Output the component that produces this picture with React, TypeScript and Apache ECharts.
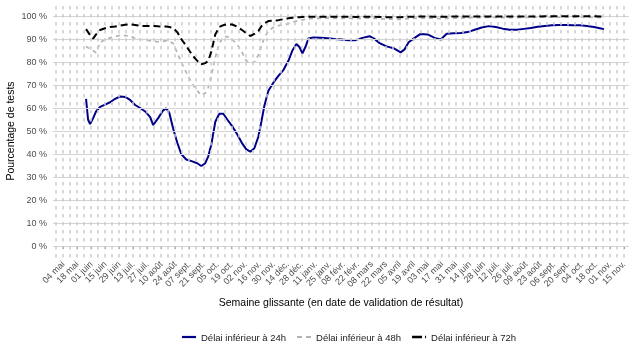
import React, { useEffect, useRef } from 'react';
import * as echarts from 'echarts';

// Semaine glissante (date de validation de résultat)
const dates = [
  '2020-05-27', '2020-05-29', '2020-05-31', '2020-06-03', '2020-06-06', '2020-06-10', '2020-06-15', '2020-06-20', '2020-06-25', '2020-06-30',
  '2020-07-05', '2020-07-10', '2020-07-15', '2020-07-20', '2020-07-25', '2020-07-30', '2020-08-02', '2020-08-07', '2020-08-12', '2020-08-15',
  '2020-08-18', '2020-08-22', '2020-08-26', '2020-08-30', '2020-09-04', '2020-09-10', '2020-09-15', '2020-09-19', '2020-09-23', '2020-09-26',
  '2020-09-29', '2020-10-03', '2020-10-07', '2020-10-11', '2020-10-15', '2020-10-20', '2020-10-25', '2020-10-30', '2020-11-03', '2020-11-07',
  '2020-11-11', '2020-11-15', '2020-11-18', '2020-11-21', '2020-11-25', '2020-11-30', '2020-12-05', '2020-12-10', '2020-12-15', '2020-12-19',
  '2020-12-23', '2020-12-26', '2020-12-29', '2021-01-01', '2021-01-04', '2021-01-09', '2021-01-16', '2021-01-23', '2021-01-30', '2021-02-06',
  '2021-02-13', '2021-02-20', '2021-02-27', '2021-03-06', '2021-03-11', '2021-03-16', '2021-03-23', '2021-03-30', '2021-04-06', '2021-04-10',
  '2021-04-14', '2021-04-20', '2021-04-26', '2021-05-03', '2021-05-10', '2021-05-16', '2021-05-22', '2021-05-29', '2021-06-05', '2021-06-12',
  '2021-06-19', '2021-06-26', '2021-07-03', '2021-07-10', '2021-07-17', '2021-07-24', '2021-07-31', '2021-08-07', '2021-08-14', '2021-08-21',
  '2021-08-28', '2021-09-04', '2021-09-11', '2021-09-18', '2021-09-25', '2021-10-02', '2021-10-09', '2021-10-16', '2021-10-23', '2021-10-26',
];

const delai24h = [
  64, 55, 53, 55.5, 58.5, 60.5, 61.5, 62.5, 64, 65,
  64.8, 63.5, 61.3, 60, 58.5, 56, 52.6, 55.6, 59, 59.8,
  58, 51, 45, 40, 37.6, 36.8, 36, 34.8, 36, 39,
  44, 54, 57.5, 57.5, 55, 52, 48.5, 44.5, 42, 41,
  42.5, 47.5, 54, 61, 67.5, 71, 74, 76.5, 80.5, 85,
  87.8, 86.5, 83.8, 86.5, 90.2, 90.7, 90.5, 90.3, 90, 89.8,
  89.5, 89.5, 90.5, 91.2, 90, 88.2, 86.8, 86, 84.2, 85.5,
  88.6, 90.5, 92.2, 92, 90.5, 89.8, 92.3, 92.5, 92.6, 93,
  94, 95, 95.6, 95.2, 94.5, 94, 94, 94.4, 94.8, 95.3,
  95.7, 96, 96.1, 96.1, 96, 96, 95.7, 95.2, 94.6, 94.3,
];

const delai48h = [
  86.7, 86.2, 85.8, 85, 84, 88.5, 89.8, 90.5, 91, 91.6,
  91.5, 91.3, 90.3, 89.9, 89.6, 89.3, 89, 88.8, 89, 89.3,
  89, 88, 84, 80, 75.5, 70.5, 67.5, 65.5, 66.5, 69,
  74, 82, 88, 91, 91, 89.8, 87.5, 84, 80.5, 79.4,
  80, 83, 87, 90.5, 93.5, 95, 95.8, 96.2, 96.6, 97.3,
  97.8, 98, 98.3, 98.5, 98.7, 99, 99, 99.1, 99, 99,
  99, 98.9, 99, 99.1, 99, 98.8, 98.6, 98.6, 98.5, 98.7,
  98.9, 99, 99.1, 99.1, 99, 98.8, 99, 99.1, 99.1, 99.2,
  99.3, 99.4, 99.4, 99.4, 99.3, 99.3, 99.3, 99.4, 99.4, 99.5,
  99.5, 99.5, 99.5, 99.5, 99.5, 99.5, 99.5, 99.4, 99.4, 99.4,
];

const delai72h = [
  94.3, 93, 91.7, 90.2, 92, 93.9, 94.7, 95.2, 95.4, 95.8,
  96.2, 96.4, 96.1, 95.7, 95.7, 95.7, 95.7, 95.5, 95.4, 95.4,
  95.2, 94.8, 93, 90, 87, 83, 80.5, 79, 79.5, 80.5,
  84.5, 92, 95.2, 96, 96.4, 96.3, 95.3, 93.8, 92.5, 91.3,
  92.2, 93.5, 95.5, 96.8, 97.8, 98, 98.2, 98.6, 99, 99.2,
  99.4, 99.5, 99.6, 99.7, 99.7, 99.7, 99.7, 99.7, 99.7, 99.7,
  99.7, 99.6, 99.7, 99.7, 99.7, 99.6, 99.5, 99.5, 99.5, 99.6,
  99.7, 99.7, 99.8, 99.8, 99.7, 99.7, 99.7, 99.8, 99.8, 99.8,
  99.8, 99.8, 99.8, 99.8, 99.8, 99.8, 99.8, 99.8, 99.8, 99.8,
  99.9, 99.9, 99.9, 99.9, 99.9, 99.9, 99.9, 99.9, 99.8, 99.8,
];

// Tick labels every two weeks (04 mai 2020 -> 15 nov. 2021)
const tickDates = [
  '2020-05-04', '2020-05-18', '2020-06-01', '2020-06-15', '2020-06-29', '2020-07-13', '2020-07-27', '2020-08-10', '2020-08-24',
  '2020-09-07', '2020-09-21', '2020-10-05', '2020-10-19', '2020-11-02', '2020-11-16', '2020-11-30', '2020-12-14', '2020-12-28',
  '2021-01-11', '2021-01-25', '2021-02-08', '2021-02-22', '2021-03-08', '2021-03-22', '2021-04-05', '2021-04-19', '2021-05-03',
  '2021-05-17', '2021-05-31', '2021-06-14', '2021-06-28', '2021-07-12', '2021-07-26', '2021-08-09', '2021-08-23', '2021-09-06',
  '2021-09-20', '2021-10-04', '2021-10-18', '2021-11-01', '2021-11-15',
];
const yTicks = [0, 10, 20, 30, 40, 50, 60, 70, 80, 90, 100];
const MONTHS = ['janv.', 'févr.', 'mars', 'avril', 'mai', 'juin', 'juil.', 'août', 'sept.', 'oct.', 'nov.', 'déc.'];

const DAY = 86400000;
const ORIGIN = Date.UTC(2020, 4, 4);
const toDay = (iso: string) => {
  const [y, m, d] = iso.split('-').map(Number);
  return Math.round((Date.UTC(y, m - 1, d) - ORIGIN) / DAY);
};
const fmtDay = (v: number) => {
  const dt = new Date(ORIGIN + Math.round(v) * DAY);
  const dd = String(dt.getUTCDate()).padStart(2, '0');
  return `${dd} ${MONTHS[dt.getUTCMonth()]}`;
};

const FONT = 'Liberation Sans, Arial, sans-serif';

export default function App() {
  const ref = useRef<HTMLDivElement>(null);
  useEffect(() => {
    if (!ref.current) return;
    const chart = echarts.init(ref.current, null, { renderer: 'svg' });
    const tickDays = tickDates.map(toDay);
    // weekly dashed vertical grid lines (majors + minors)
    const weekLines: number[] = [];
    for (let i = 0; i < tickDays.length; i++) {
      weekLines.push(tickDays[i]);
      weekLines.push(tickDays[i] - 7);
    }
    const mk = (arr: number[]) => dates.map((d, i) => [toDay(d), arr[i]]);
    chart.setOption({
      animation: false,
      textStyle: { fontFamily: FONT },
      grid: { left: 53, right: 6, top: 4.5, bottom: 95.5 },
      xAxis: {
        type: 'value',
        min: -10,
        max: 565,
        axisLine: { show: false },
        splitLine: { show: false },
        axisTick: { show: true, customValues: tickDays, length: 3, lineStyle: { color: '#333', width: 1 } },
        axisLabel: {
          customValues: tickDays,
          rotate: 45,
          margin: 5,
          fontSize: 9,
          color: '#4d4d4d',
          fontFamily: FONT,
          formatter: (v: number) => fmtDay(v),
        },
      },
      yAxis: {
        type: 'value',
        min: -5,
        max: 105,
        axisLine: { show: false },
        splitLine: { show: false },
        axisTick: { show: true, customValues: yTicks, length: 3, lineStyle: { color: '#333', width: 1 } },
        axisLabel: {
          customValues: yTicks,
          margin: 6,
          fontSize: 9,
          color: '#4d4d4d',
          fontFamily: FONT,
          formatter: (v: number) => `${v} %`,
        },
      },
      legend: {
        data: [
          { name: 'Délai inférieur à 24h', icon: 'path://M0,0h14v2.2h-14z' },
          { name: 'Délai inférieur à 48h', icon: 'path://M0,0h5v1.8h-5zM9,0h5v1.8h-5z' },
          { name: 'Délai inférieur à 72h', icon: 'path://M0,0h10v2.4h-10zM13,0h1v2.4h-1z' },
        ],
        left: 177,
        top: 327,
        itemWidth: 14,
        itemHeight: 12,
        itemGap: 11,
        textStyle: { fontSize: 9.5, color: '#1a1a1a', fontFamily: FONT },
      },
      graphic: [
        {
          type: 'text',
          x: 341,
          y: 301.5,
          style: {
            text: 'Semaine glissante (en date de validation de résultat)',
            fontSize: 10.5,
            fontFamily: FONT,
            fill: '#000',
            align: 'center',
            verticalAlign: 'middle',
          },
        },
        {
          type: 'text',
          x: 10,
          y: 131,
          rotation: Math.PI / 2,
          style: {
            text: 'Pourcentage de tests',
            fontSize: 10.5,
            fontFamily: FONT,
            fill: '#000',
            align: 'center',
            verticalAlign: 'middle',
          },
        },
      ],
      series: [
        {
          name: 'grille',
          type: 'line',
          data: [],
          silent: true,
          z: 1,
          markLine: {
            silent: true,
            symbol: ['none', 'none'],
            label: { show: false },
            emphasis: { disabled: true },
            animation: false,
            data: [
              ...yTicks.map((v) => ({ yAxis: v, lineStyle: { color: '#d4d4d4', width: 1, type: 'solid' } })),
              ...weekLines.map((v) => ({ xAxis: v, lineStyle: { color: '#cccccc', width: 1.5, type: [3.5, 4.5] } })),
            ],
          },
        },
        {
          name: 'Délai inférieur à 48h',
          type: 'line',
          data: mk(delai48h),
          showSymbol: false,
          symbol: 'none',
          z: 3,
          color: '#b3b3b3',
          lineStyle: { color: '#b3b3b3', width: 1.7, type: [4, 4] },
        },
        {
          name: 'Délai inférieur à 24h',
          type: 'line',
          data: mk(delai24h),
          showSymbol: false,
          symbol: 'none',
          z: 4,
          color: '#00008B',
          lineStyle: { color: '#00008B', width: 2 },
        },
        {
          name: 'Délai inférieur à 72h',
          type: 'line',
          data: mk(delai72h),
          showSymbol: false,
          symbol: 'none',
          z: 5,
          color: '#000000',
          lineStyle: { color: '#000000', width: 2, type: [7, 4] },
        },
      ],
    });
    return () => chart.dispose();
  }, []);
  return <div ref={ref} style={{ position: 'fixed', left: 0, top: 0, width: 635, height: 353 }} />;
}
